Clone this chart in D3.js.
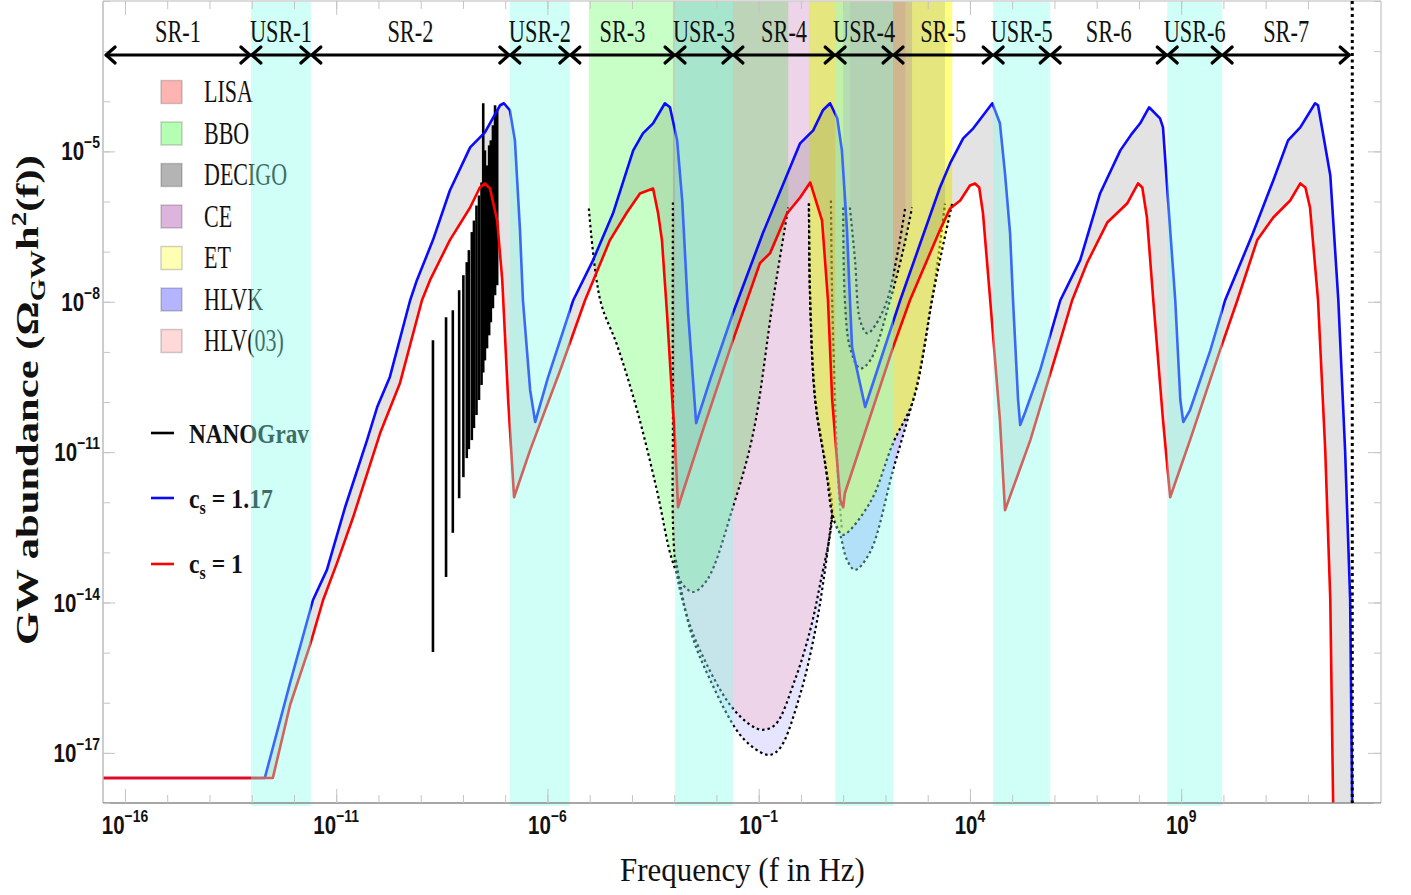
<!DOCTYPE html>
<html><head><meta charset="utf-8">
<script src="https://cdn.jsdelivr.net/npm/d3@7"></script>
<style>
html,body{margin:0;padding:0;background:#fff;}
svg{display:block;}
</style></head><body>
<svg id="chart" width="1411" height="895"></svg>
<script>
// ---------------- DATA (log10 f [Hz], log10 Omega_GW h^2) ----------------
const curveBlue = [[-16.6,-17.50],[-12.69,-17.50],[-12.09,-15.60],[-11.55,-13.95],[-11.22,-13.35],[-10.79,-12.10],[-10.27,-10.76],[-10.03,-10.10],[-9.73,-9.50],[-9.25,-7.97],[-9.09,-7.57],[-8.71,-6.77],[-8.31,-5.78],[-7.83,-4.92],[-7.48,-4.62],[-7.12,-4.08],[-7.03,-4.04],[-6.89,-4.18],[-6.77,-4.78],[-6.65,-6.57],[-6.58,-7.97],[-6.41,-9.76],[-6.29,-10.40],[-5.99,-9.52],[-5.39,-7.97],[-4.92,-7.17],[-4.45,-6.24],[-3.97,-4.98],[-3.74,-4.64],[-3.50,-4.44],[-3.22,-4.04],[-3.10,-4.12],[-2.93,-4.78],[-2.81,-5.98],[-2.67,-8.23],[-2.48,-10.42],[-2.15,-9.56],[-1.61,-8.23],[-0.90,-6.63],[-0.02,-4.84],[0.29,-4.58],[0.52,-4.18],[0.69,-4.04],[0.86,-4.34],[0.97,-4.98],[1.09,-6.57],[1.16,-7.97],[1.21,-8.91],[1.52,-10.10],[2.35,-7.97],[3.29,-5.72],[3.53,-5.24],[3.84,-4.74],[4.08,-4.54],[4.53,-4.04],[4.71,-4.44],[4.83,-5.44],[4.95,-6.63],[5.02,-7.97],[5.14,-9.96],[5.19,-10.46],[5.31,-10.20],[5.66,-9.37],[6.14,-7.97],[6.61,-7.17],[7.08,-5.84],[7.56,-4.98],[7.84,-4.64],[8.03,-4.44],[8.24,-4.12],[8.50,-4.34],[8.57,-4.52],[8.69,-5.98],[8.86,-7.97],[8.98,-9.96],[9.05,-10.40],[9.21,-10.16],[9.69,-8.97],[10.04,-7.97],[10.70,-6.63],[11.18,-5.58],[11.53,-4.78],[11.82,-4.52],[12.17,-4.04],[12.24,-4.08],[12.53,-5.48],[12.72,-7.97],[12.88,-10.96],[13.00,-13.95],[13.05,-18.2]];
const curveRed = [[-16.6,-17.50],[-12.50,-17.50],[-12.09,-16.04],[-11.62,-14.85],[-11.31,-13.95],[-10.98,-13.21],[-10.60,-12.30],[-9.96,-10.62],[-9.49,-9.62],[-8.97,-7.97],[-8.78,-7.57],[-8.31,-6.77],[-7.83,-6.12],[-7.60,-5.72],[-7.48,-5.64],[-7.36,-5.74],[-7.19,-6.38],[-7.07,-7.57],[-6.93,-9.96],[-6.79,-11.90],[-6.41,-10.96],[-5.70,-9.37],[-5.11,-7.97],[-4.52,-6.77],[-4.12,-6.22],[-3.81,-5.84],[-3.50,-5.74],[-3.38,-6.24],[-3.29,-6.77],[-3.17,-8.23],[-3.05,-9.90],[-2.98,-10.76],[-2.91,-12.10],[-2.32,-10.56],[-1.61,-8.77],[-0.97,-7.23],[-0.73,-7.03],[-0.33,-6.24],[-0.02,-5.92],[0.22,-5.62],[0.50,-6.38],[0.64,-7.97],[0.74,-9.96],[0.93,-11.96],[1.00,-12.10],[1.04,-11.82],[2.18,-8.91],[2.58,-7.97],[3.29,-6.57],[3.53,-6.14],[3.77,-5.98],[4.00,-5.68],[4.12,-5.64],[4.22,-5.72],[4.31,-6.24],[4.48,-7.97],[4.71,-10.36],[4.83,-12.16],[5.43,-10.76],[6.14,-8.77],[6.42,-7.97],[6.77,-7.23],[7.25,-6.42],[7.72,-6.04],[7.98,-5.64],[8.08,-5.72],[8.19,-6.32],[8.34,-7.97],[8.57,-10.36],[8.74,-11.90],[9.21,-10.76],[9.92,-8.97],[10.33,-7.97],[10.80,-6.77],[11.18,-6.32],[11.58,-5.98],[11.82,-5.64],[11.94,-5.72],[12.05,-6.12],[12.24,-7.97],[12.41,-10.96],[12.53,-13.95],[12.60,-18.2]];

// NANOGrav bars
const nanoF  = [-8.71,-8.40,-8.24,-8.09,-7.99,-7.91,-7.86,-7.79,-7.74,-7.68,-7.62,-7.56,-7.52,-7.48,-7.43,-7.38,-7.34,-7.29,-7.24,-7.19];
const nanoHi = [-8.77,-8.31,-8.17,-7.77,-7.47,-7.21,-6.97,-6.61,-6.38,-6.08,-5.88,-5.62,-4.04,-4.98,-5.28,-4.88,-4.78,-4.48,-4.08,-4.18];
const nanoLo = [-14.99,-13.49,-12.61,-11.92,-11.50,-11.12,-10.94,-10.76,-10.52,-10.26,-9.96,-9.66,-9.41,-9.17,-8.93,-8.67,-8.41,-8.13,-7.87,-7.67];

// detector sensitivity curves
const curveBBO = [[-5.02,-6.14],[-4.75,-7.97],[-4.35,-8.87],[-3.88,-10.16],[-3.41,-11.76],[-3.05,-13.15],[-2.79,-13.65],[-2.55,-13.79],[-2.22,-13.55],[-1.61,-12.10],[-1.13,-10.62],[-0.66,-7.97],[-0.30,-6.12]];
const curveCE = [[-3.03,-6.02],[-3.03,-9.96],[-2.98,-13.15],[-2.74,-14.15],[-2.39,-14.95],[-1.68,-16.04],[-1.20,-16.44],[-0.92,-16.54],[-0.61,-16.44],[-0.14,-15.54],[0.22,-14.55],[0.45,-13.65],[0.74,-12.22],[0.60,-11.36],[0.34,-9.96],[0.22,-7.97],[0.19,-6.04]];
const curveDECIGO = [[-2.96,-13.15],[-2.62,-14.55],[-2.15,-15.54],[-1.44,-16.64],[-0.97,-16.98],[-0.73,-17.04],[-0.49,-16.90],[-0.02,-15.84],[0.34,-14.55],[0.57,-13.35],[0.74,-12.22]];
const curveLIGO = [[0.71,-5.98],[0.74,-7.97],[0.81,-9.96],[0.88,-11.56],[0.97,-12.55]];
const curveHLVK = [[0.19,-6.04],[0.22,-7.97],[0.34,-9.96],[0.60,-11.36],[0.74,-12.22],[0.93,-12.65],[1.09,-13.15],[1.28,-13.35],[1.64,-12.99],[2.18,-11.36],[2.75,-9.62],[3.10,-7.97],[3.29,-6.87],[3.41,-6.04]];
const curveET = [[0.19,-6.04],[0.22,-7.97],[0.34,-9.96],[0.60,-11.36],[0.74,-12.22],[0.88,-12.55],[1.00,-12.65],[1.64,-12.00],[2.18,-10.82],[2.66,-9.96],[3.10,-7.97],[3.34,-6.97],[3.58,-6.04]];
const curveLISA = [[1.00,-6.12],[1.04,-7.97],[1.16,-8.91],[1.40,-9.33],[1.64,-9.17],[2.11,-7.97],[2.42,-6.97],[2.63,-6.12]];
const curveHLV = [[1.16,-6.12],[1.28,-7.17],[1.40,-8.37],[1.57,-8.63],[1.76,-8.47],[2.04,-7.97],[2.30,-6.97],[2.47,-6.12]];

// regions on top
const regionNames = ["SR-1","USR-1","SR-2","USR-2","SR-3","USR-3","SR-4","USR-4","SR-5","USR-5","SR-6","USR-6","SR-7"];
const regionEdges = [-16.47,-13.02,-11.60,-6.89,-5.47,-2.98,-1.61,0.81,2.18,4.55,5.90,8.67,9.97,13.00];
const cutoffF = 13.05;

// legend
const detNames = ["LISA","BBO","DECIGO","CE","ET","HLVK","HLV(03)"];
const detSwatch = ["#ffb4b4","#b4ffb4","#b4b4b4","#dcb4dc","#ffffb4","#b4b4ff","#ffd8d8"];

// axes
const xMinorTicks = d3.range(-16, 14);
const xTickLabels = [-16,-11,-6,-1,4,9];
const yMinorTicks = d3.range(-18, -1);
const yTickLabels = [-5,-8,-11,-14,-17];

// ---------------- DRAW ----------------
const M = {left:103, right:1381, top:1, bottom:803};
const x = d3.scaleLinear().domain([-16.52, 13.73]).range([M.left, M.right]);
const y = d3.scaleLinear().domain([-18, -2]).range([M.bottom, M.top]);
const TOP = -1.8;
const svg = d3.select('#chart');
svg.append('rect').attr('width',1411).attr('height',895).attr('fill','#fff');
svg.append('defs').append('clipPath').attr('id','clip').append('rect')
  .attr('x',M.left).attr('y',M.top).attr('width',M.right-M.left).attr('height',M.bottom-M.top);

const line = d3.line().x(d=>x(d[0])).y(d=>y(d[1]));
const smooth = d3.line().x(d=>x(d[0])).y(d=>y(d[1])).curve(d3.curveCatmullRom.alpha(0.5));
const plot = svg.append('g').attr('clip-path','url(#clip)');

function toTopPath(pts){
  const a = pts[0], b = pts[pts.length-1];
  return smooth(pts) + `L${x(b[0])},${y(TOP)}L${x(a[0])},${y(TOP)}Z`;
}
function dashed(pts, color){
  plot.append('path').attr('d', smooth(pts)).attr('fill','none')
    .attr('stroke', color||'#000').attr('stroke-width',2.2).attr('stroke-dasharray','2.5,3');
}
function filledTop(pts, fill){
  plot.append('path').attr('d', toTopPath(pts)).attr('fill', fill).attr('stroke','none');
  dashed(pts);
}
// detector layers
filledTop(curveBBO, 'rgba(0,255,0,0.22)');
filledTop(curveCE, 'rgba(150,0,120,0.17)');
{
  const lower = curveCE.slice(2, 13).reverse();
  const d = smooth(curveDECIGO) + smooth(lower).replace(/^M/, 'L') + 'Z';
  plot.append('path').attr('d', d).attr('fill','rgba(0,0,255,0.1)');
  dashed(curveDECIGO);
}
dashed(curveLIGO);
filledTop(curveHLVK, 'rgba(0,0,255,0.2)');
filledTop(curveET, 'rgba(255,255,0,0.5)');
filledTop(curveLISA, 'rgba(120,60,200,0.18)');
filledTop(curveHLV, 'rgba(200,80,160,0.15)');

// gray band between the two spectra
plot.append('path').attr('d', line(curveBlue) + line(curveRed.slice().reverse()).replace(/^M/,'L') + 'Z')
  .attr('fill','rgba(0,0,0,0.11)');

// NANOGrav
plot.selectAll('line.nano').data(nanoF).join('line').attr('class','nano')
  .attr('x1', d=>x(d)).attr('x2', d=>x(d))
  .attr('y1', (d,i)=>y(nanoHi[i])).attr('y2', (d,i)=>y(nanoLo[i]))
  .attr('stroke','#000').attr('stroke-width',2.6);

// spectra
plot.append('path').attr('d', line(curveBlue)).attr('fill','none').attr('stroke','#0a0aff').attr('stroke-width',2.6).attr('stroke-linejoin','round');
plot.append('path').attr('d', line(curveRed)).attr('fill','none').attr('stroke','#ff0000').attr('stroke-width',2.6).attr('stroke-linejoin','round');

// ---------------- LEGEND ----------------
const serif = "'Liberation Serif', 'Times New Roman', serif";
const lg = svg.append('g');
detNames.forEach((n,i)=>{
  const cy = 92 + i*41.5;
  lg.append('rect').attr('x',161).attr('y',cy-11.5).attr('width',21).attr('height',23)
    .attr('fill',detSwatch[i]).attr('stroke','rgba(0,0,0,0.18)').attr('stroke-width',1.5);
  lg.append('g').attr('transform',`translate(204,${cy+10}) scale(0.71,1)`)
    .append('text').style('font-family',serif).style('font-size','31px').attr('fill','#111').text(n);
});
function fitText(parent, tx, ty, targetW, sy, build){
  const g = parent.append('g');
  const t = g.append('text').attr('x',0).attr('y',0);
  build(t);
  const bb = t.node().getBBox();
  const sx = targetW / bb.width;
  g.attr('transform', `translate(${tx},${ty}) scale(${sx},${sy}) translate(${-bb.x},0)`);
  return g;
}
const lineLegend = [["#000", 433, 443, 120], ["#0a0aff", 498, 508, 84], ["#ff0000", 564, 573, 54]];
lineLegend.forEach((d,i)=>{
  lg.append('line').attr('x1',151).attr('x2',174).attr('y1',d[1]).attr('y2',d[1]).attr('stroke',d[0]).attr('stroke-width',2.6);
  fitText(lg, 189, d[2], d[3], 1, t=>{
    t.style('font-family',serif).style('font-size','28px').style('font-weight','bold').attr('fill','#111');
    if(i===0){ t.text('NANOGrav'); }
    else {
      t.append('tspan').text('c');
      t.append('tspan').attr('dy',6).style('font-size','19px').text('s');
      t.append('tspan').attr('dy',-6).text(i===1 ? ' = 1.17' : ' = 1');
    }
  });
});

// ---------------- CYAN USR BANDS (overlay) ----------------
for(let i=1;i<regionNames.length;i+=2){
  svg.append('rect').attr('x',x(regionEdges[i])).attr('y',2)
    .attr('width',x(regionEdges[i+1])-x(regionEdges[i])).attr('height',804)
    .attr('fill','rgba(135,255,237,0.39)');
}

// ---------------- FRAME & TICKS ----------------
const fr = svg.append('g');
fr.append('line').attr('x1',M.left).attr('x2',M.right).attr('y1',M.top).attr('y2',M.top).attr('stroke','#cfcfcf').attr('stroke-width',1.5);
fr.append('line').attr('x1',M.right).attr('x2',M.right).attr('y1',M.top).attr('y2',M.bottom).attr('stroke','#cfcfcf').attr('stroke-width',1.5);
fr.append('line').attr('x1',M.left).attr('x2',M.left).attr('y1',M.top).attr('y2',M.bottom).attr('stroke','#bdbdbd').attr('stroke-width',1.5);
function tickAxis(axis, tr, vals, size){
  const g = svg.append('g').attr('transform',tr).call(axis.tickValues(vals).tickSize(size).tickFormat(''));
  g.select('.domain').remove();
  g.selectAll('line').attr('stroke','#c4c4c4').attr('stroke-width',1);
}
tickAxis(d3.axisBottom(x), `translate(0,${M.bottom})`, xMinorTicks, -8);
tickAxis(d3.axisBottom(x), `translate(0,${M.bottom})`, xTickLabels, -14);
tickAxis(d3.axisTop(x), `translate(0,${M.top})`, xMinorTicks, -8);
tickAxis(d3.axisTop(x), `translate(0,${M.top})`, xTickLabels, -14);
tickAxis(d3.axisLeft(y), `translate(${M.left},0)`, yMinorTicks, -7);
tickAxis(d3.axisLeft(y), `translate(${M.left},0)`, yTickLabels, -12);
tickAxis(d3.axisRight(y), `translate(${M.right},0)`, yMinorTicks, -7);
tickAxis(d3.axisRight(y), `translate(${M.right},0)`, yTickLabels, -13);
fr.append('line').attr('x1',M.left).attr('x2',M.right).attr('y1',M.bottom).attr('y2',M.bottom).attr('stroke','#8a8a8a').attr('stroke-width',1.6);

const sans = "'Liberation Sans', Arial, sans-serif";
xTickLabels.forEach(v=>{
  const t = svg.append('g').attr('transform',`translate(${x(v)},834) scale(0.82,1)`)
    .append('text').attr('text-anchor','middle').style('font-family',sans).style('font-weight','bold').style('font-size','25px').attr('fill','#111');
  t.append('tspan').text('10');
  t.append('tspan').attr('dy',-12).style('font-size','17px').text(v<0 ? '\u2212'+(-v) : String(v));
});
yTickLabels.forEach(v=>{
  const t = svg.append('g').attr('transform',`translate(100,${y(v)+9}) scale(0.82,1)`)
    .append('text').attr('text-anchor','end').style('font-family',sans).style('font-weight','bold').style('font-size','25px').attr('fill','#111');
  t.append('tspan').text('10');
  t.append('tspan').attr('dy',-12).style('font-size','17px').text('\u2212'+(-v));
});

// ---------------- TOP REGION ARROWS ----------------
const ar = svg.append('g').attr('stroke','#000').attr('stroke-width',3.2).attr('fill','none').attr('stroke-linecap','round').attr('stroke-linejoin','round');
const AY = 55;
for(let i=0;i<regionNames.length;i++){
  const a = x(regionEdges[i]), b = x(regionEdges[i+1]);
  ar.append('line').attr('x1',a+1).attr('x2',b-1).attr('y1',AY).attr('y2',AY);
  ar.append('path').attr('d',`M${a+10},${AY-8}L${a+1},${AY}L${a+10},${AY+8}`);
  ar.append('path').attr('d',`M${b-10},${AY-8}L${b-1},${AY}L${b-10},${AY+8}`);
  svg.append('g').attr('transform',`translate(${(a+b)/2},42) scale(0.72,1)`)
    .append('text').attr('text-anchor','middle').style('font-family',serif).style('font-size','31px').attr('fill','#111').text(regionNames[i]);
}
// cutoff dotted line
svg.append('line').attr('x1',x(cutoffF)).attr('x2',x(cutoffF)).attr('y1',M.top).attr('y2',M.bottom)
  .attr('stroke','#000').attr('stroke-width',3).attr('stroke-dasharray','3,3.5');

// ---------------- AXIS TITLES ----------------
fitText(svg, 620, 881, 245, 1, t=>{
  t.style('font-family',serif).style('font-size','34px').attr('fill','#111').text('Frequency (f in Hz)');
});
{
  const g = svg.append('g').attr('transform','translate(38,400) rotate(-90)');
  const inner = g.append('g');
  const t = inner.append('text').style('font-family',serif).style('font-size','31px').style('font-weight','bold').attr('fill','#111');
  t.append('tspan').text('GW abundance (');
  t.append('tspan').text('\u03A9');
  t.append('tspan').attr('dy',7).style('font-size','21px').text('GW');
  t.append('tspan').attr('dy',-7).text('h');
  t.append('tspan').attr('dy',-12).style('font-size','21px').text('2');
  t.append('tspan').attr('dy',12).text('(f))');
  const bb = t.node().getBBox();
  const sx = 490 / bb.width;
  inner.attr('transform', `scale(${sx},1) translate(${-bb.x - bb.width/2},0)`);
}
</script>
</body></html>
